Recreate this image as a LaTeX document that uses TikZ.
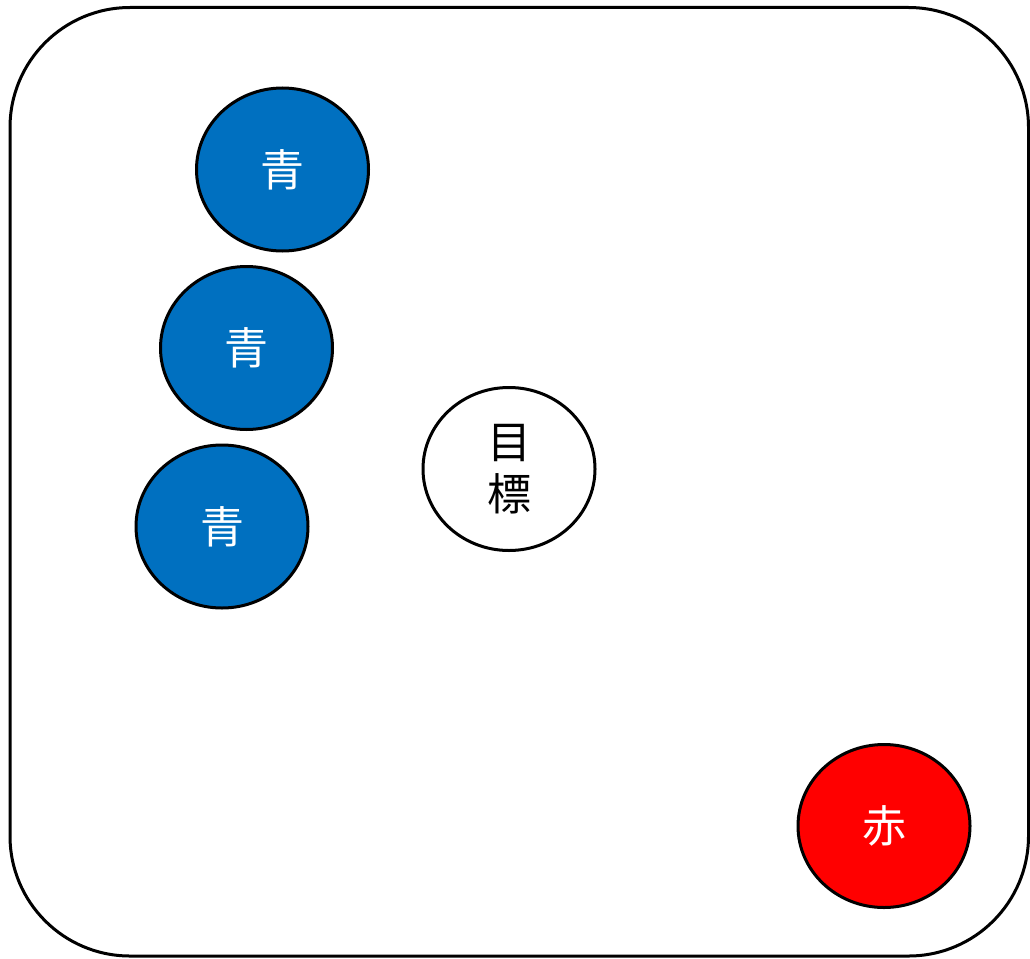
\documentclass[tikz,border=0pt]{standalone}
\usepackage{fontspec}
\newfontfamily\cjk{Noto Sans CJK JP}
\usetikzlibrary{shapes.geometric}
\definecolor{myblue}{HTML}{0070C0}
\definecolor{myred}{HTML}{FF0000}
\begin{document}
\begin{tikzpicture}[x=1pt,y=-1pt,
  disc/.style={ellipse,draw=black,line width=3pt,minimum width=172pt,minimum height=163pt,inner sep=0pt,font=\cjk\fontsize{44}{52}\selectfont,align=center},
  bluedisc/.style={disc,fill=myblue,text=white},
  reddisc/.style={disc,fill=myred,text=white},
  whitedisc/.style={disc,fill=white,text=black}]
\useasboundingbox (0,0) rectangle (1030,958);
\draw[line width=3pt,rounded corners=120pt] (10,7.5) rectangle (1028.5,956);
\node[bluedisc] (b1) at (282.5,169.5) {青};
\node[bluedisc] (b2) at (246.5,348) {青};
\node[bluedisc] (b3) at (222,526.5) {青};
\node[whitedisc] (goal) at (509,469) {目\\標};
\node[reddisc] (r) at (884,826) {赤};
\end{tikzpicture}
\end{document}
